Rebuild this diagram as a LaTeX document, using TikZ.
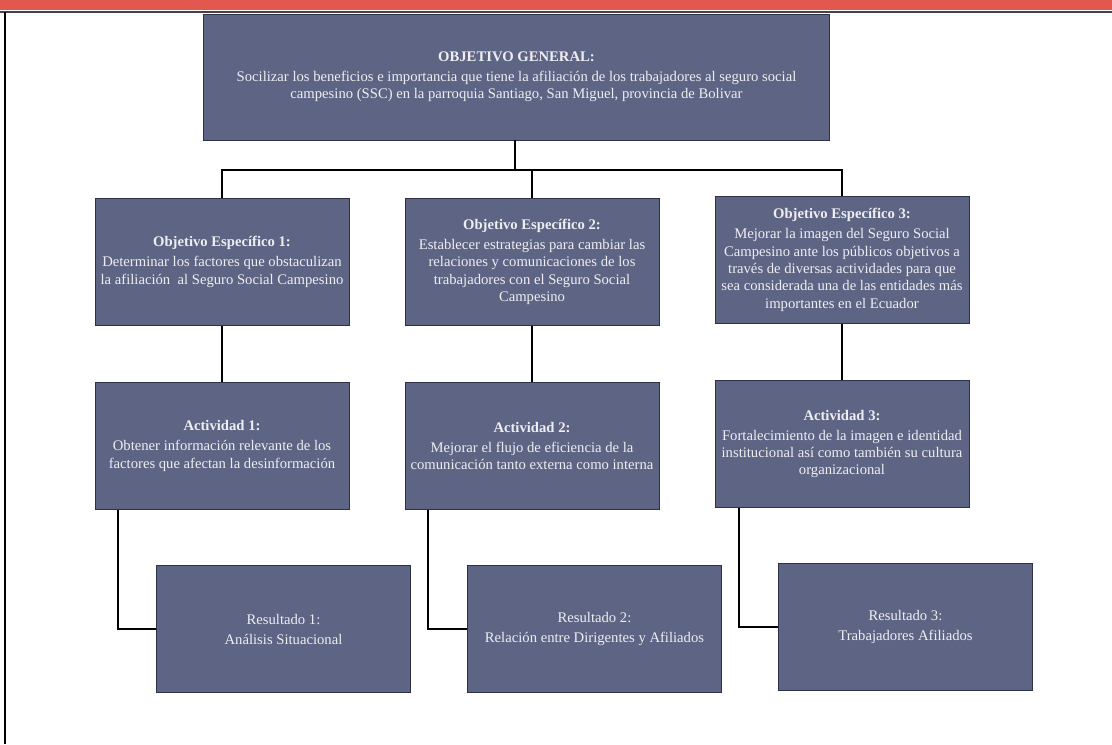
\documentclass[tikz,border=0pt]{standalone}
\usepackage{fontspec}
\setmainfont{Liberation Serif}
\definecolor{boxfill}{RGB}{94,101,132}
\definecolor{boxedge}{RGB}{45,50,72}
\definecolor{boxtext}{RGB}{238,238,242}
\definecolor{topred}{RGB}{226,88,78}
\definecolor{topline}{RGB}{70,66,70}
\begin{document}
\begin{tikzpicture}[x=0.75pt,y=-0.75pt,
  box/.style={draw=boxedge,line width=0.6pt,fill=boxfill,text=boxtext,align=center,
    minimum width=190.5pt,minimum height=95.25pt,inner sep=2pt,
    font=\fontsize{11}{13}\selectfont},
  wide/.style={box,minimum width=469.5pt,minimum height=94.5pt},
  link/.style={draw=black,line width=1.6pt}]
\useasboundingbox (0,0) rectangle (1112,744);
\fill[white] (0,0) rectangle (1112,744);
\fill[topred] (0,0) rectangle (1112,10);
\draw[topline,line width=1.5pt] (0,11.5) -- (1112,11.5);
\draw[black,line width=1.2pt] (5,12) -- (5,744);

\node[wide] (g) at (516.5,77) {\textbf{OBJETIVO GENERAL:}\\[2pt]
Socilizar los beneficios e importancia que tiene la afiliación de los trabajadores al seguro social\\
campesino (SSC) en la parroquia Santiago, San Miguel, provincia de Bolivar};

\node[box] (o1) at (222,262) {\textbf{Objetivo Específico 1:}\\[2pt]
Determinar los factores que obstaculizan\\la afiliación \ al Seguro Social Campesino};
\node[box] (o2) at (532,262) {\textbf{Objetivo Específico 2:}\\[2pt]
Establecer estrategias para cambiar las\\relaciones y comunicaciones de los\\trabajadores con el Seguro Social\\Campesino};
\node[box] (o3) at (842,260) {\textbf{Objetivo Específico 3:}\\[2pt]
Mejorar la imagen del Seguro Social\\Campesino ante los públicos objetivos a\\través de diversas actividades para que\\sea considerada una de las entidades más\\importantes en el Ecuador};

\node[box] (a1) at (222,446) {\textbf{Actividad 1:}\\[2pt]
Obtener información relevante de los\\factores que afectan la desinformación};
\node[box] (a2) at (532,446) {\textbf{Actividad 2:}\\[2pt]
Mejorar el flujo de eficiencia de la\\comunicación tanto externa como interna};
\node[box] (a3) at (842,444) {\textbf{Actividad 3:}\\[2pt]
Fortalecimiento de la imagen e identidad\\institucional así como también su cultura\\organizacional};

\node[box] (r1) at (283.5,629) {Resultado 1:\\[2pt]Análisis Situacional};
\node[box] (r2) at (594.5,629) {Resultado 2:\\[2pt]Relación entre Dirigentes y Afiliados};
\node[box] (r3) at (905.5,627) {Resultado 3:\\[2pt]Trabajadores Afiliados};

\coordinate (bus) at (515,170);
\draw[link] (g.south -| bus) -- (bus);
\draw[link] (o1.north) |- (bus) -| (o3.north);
\draw[link] (bus) -| (o2.north);
\draw[link] (o1.south) -- (a1.north);
\draw[link] (o2.south) -- (a2.north);
\draw[link] (o3.south) -- (a3.north);
\draw[link] ([xshift=17.25pt]a1.south west) |- (r1.west);
\draw[link] ([xshift=17.25pt]a2.south west) |- (r2.west);
\draw[link] ([xshift=18pt]a3.south west) |- (r3.west);
\end{tikzpicture}
\end{document}
